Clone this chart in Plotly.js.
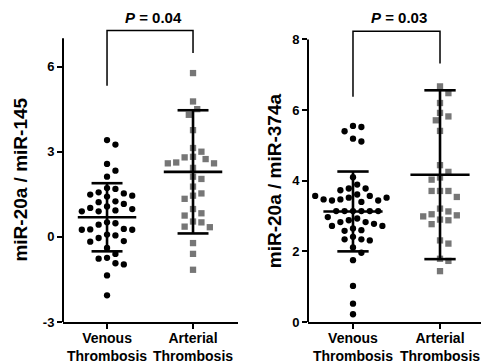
<!DOCTYPE html>
<html>
<head>
<meta charset="utf-8">
<script src="https://cdn.plot.ly/plotly-3.0.1.min.js"></script>
<style>
  html, body { margin: 0; padding: 0; background: #fff; }
  #chart { width: 482px; height: 363px; }
</style>
</head>
<body>
<div id="chart"></div>
<script>
// Group labels (two lines each)
const groups = ['Venous<br>Thrombosis', 'Arterial<br>Thrombosis'];

// miR-20a / miR-145 ratios
const venous145 = [3.41, 3.25, 2.57, 2.33, 2.12, 1.72, 1.69, 1.57, 1.53, 1.49, 1.45, 1.42,
  1.25, 1.22, 1.16, 1.07, 1.02, 0.98, 0.93, 0.90, 0.90, 0.51, 0.48, 0.43, 0.28, 0.26,
  0.25, 0.25, 0.08, 0.05, -0.04, -0.15, -0.17, -0.39, -0.60, -0.74, -0.77, -0.93, -0.97,
  -1.36, -2.06];
const arterial145 = [5.77, 4.77, 4.50, 4.30, 3.76, 3.13, 3.00, 2.82, 2.80, 2.74, 2.62, 2.59,
  2.59, 2.43, 2.12, 2.04, 1.77, 1.53, 1.45, 1.34, 0.98, 0.83, 0.75, 0.54, 0.51, 0.36,
  0.34, -0.22, -0.60, -1.16];
const mean145 = [0.69, 2.29];
const sd145 = [1.20, 2.17];
const ticks145 = [-3, 0, 3, 6];
const tickText145 = ['-3', '0', '3', '6'];

// miR-20a / miR-374a ratios
const venous374 = [5.55, 5.52, 5.40, 5.19, 5.11, 4.10, 3.89, 3.78, 3.78, 3.73, 3.61,
  3.57, 3.52, 3.47, 3.44, 3.44, 3.40, 3.47, 3.52, 3.57,
  3.14, 3.14, 3.14, 3.14, 3.14, 3.14,
  2.97, 2.93, 2.88, 2.83, 2.83, 2.78, 2.72, 2.72, 2.65,
  2.60, 2.58, 2.41, 2.34, 2.34, 2.31, 2.11, 1.96, 1.75,
  1.02, 0.52, 0.22];
const arterial374 = [6.67, 6.48, 6.20, 5.92, 5.82, 5.71, 5.41, 4.44, 4.25, 4.09, 4.03,
  3.71, 3.71, 3.71, 3.54, 3.21, 3.13, 3.05, 3.02, 2.99, 2.90, 2.88, 2.77, 2.31, 2.22,
  1.79, 1.73, 1.44];
const mean374 = [3.13, 4.17];
const sd374 = [1.13, 2.39];
const ticks374 = [0, 2, 4, 6, 8];
const tickText374 = ['0', '2', '4', '6', '8'];

const pLabels = ['<i>P</i> = 0.04', '<i>P</i> = 0.03'];
const yTitles = ['miR-20a / miR-145', 'miR-20a / miR-374a'];

// ---- geometry ----
const W = 482, H = 363;
const FONT = 'Liberation Sans, Arial, Helvetica, sans-serif';
const yDom = [41 / H, 343 / H];
const x1Dom = [63 / W, 238 / W];
const x2Dom = [308 / W, 481 / W];
const x1Range = [-0.512, 1.523];
const x2Range = [-0.517, 1.471];
const y1Range = [-3, 7.64];
const y2Range = [0, 8.55];

function pxPer(dom, range, size) {
  return (dom[1] - dom[0]) * size / (range[1] - range[0]);
}

// Simple beeswarm: spread points sideways so markers don't overlap
function swarm(values, center, domX, rangeX, domY, rangeY) {
  const kx = pxPer(domX, rangeX, W);
  const ky = pxPer(domY, rangeY, H);
  const d = 8.4, step = 4.2;
  const placed = [];
  return values.map(v => {
    const y = v * ky;
    for (let k = 0; k < 60; k++) {
      const off = k === 0 ? 0 : (k % 2 ? 1 : -1) * Math.ceil(k / 2) * step;
      if (placed.every(p => Math.hypot(p.x - off, p.y - y) >= d)) {
        placed.push({ x: off, y: y });
        return center + off / kx;
      }
    }
    return center;
  });
}

function pointTrace(vals, center, xa, ya, domX, rangeX, rangeY, sym, color) {
  return {
    type: 'scatter', mode: 'markers', xaxis: xa, yaxis: ya,
    x: swarm(vals, center, domX, rangeX, yDom, rangeY), y: vals,
    marker: { symbol: sym, size: 6.3, color: color, line: { width: 0 } },
    hoverinfo: 'skip', showlegend: false, cliponaxis: false
  };
}

function summaryTrace(means, sds, xa, ya) {
  const xs = [], ys = [];
  const hw = 0.34, cw = 0.18;
  means.forEach((m, i) => {
    const s = sds[i];
    xs.push(i - hw, i + hw, null); ys.push(m, m, null);
    xs.push(i - cw, i + cw, null); ys.push(m + s, m + s, null);
    xs.push(i - cw, i + cw, null); ys.push(m - s, m - s, null);
    xs.push(i, i, null); ys.push(m - s, m + s, null);
  });
  return {
    type: 'scatter', mode: 'lines', xaxis: xa, yaxis: ya, x: xs, y: ys,
    line: { color: '#000', width: 2.6 }, hoverinfo: 'skip', showlegend: false
  };
}

const data = [
  pointTrace(venous145, 0, 'x', 'y', x1Dom, x1Range, y1Range, 'circle', '#000'),
  pointTrace(arterial145, 1, 'x', 'y', x1Dom, x1Range, y1Range, 'square', '#767676'),
  summaryTrace(mean145, sd145, 'x', 'y'),
  pointTrace(venous374, 0, 'x2', 'y2', x2Dom, x2Range, y2Range, 'circle', '#000'),
  pointTrace(arterial374, 1, 'x2', 'y2', x2Dom, x2Range, y2Range, 'square', '#767676'),
  summaryTrace(mean374, sd374, 'x2', 'y2')
];

const tickFont = { family: FONT, size: 13, color: '#000', weight: 'bold' };
const catFont = { family: FONT, size: 14, color: '#000', weight: 'bold' };

function xAxis(dom, range, anchor) {
  return {
    domain: dom, range: range, anchor: anchor, fixedrange: true,
    tickmode: 'array', tickvals: [0, 1], ticktext: groups,
    ticks: 'outside', ticklen: 5, tickwidth: 2, tickcolor: '#000',
    ticklabelstandoff: -3,
    showline: true, linewidth: 2, linecolor: '#000',
    showgrid: false, zeroline: false, tickfont: catFont
  };
}
function yAxis(dom, range, anchor, vals, text) {
  return {
    domain: dom, range: range, anchor: anchor, fixedrange: true,
    tickmode: 'array', tickvals: vals, ticktext: text,
    ticks: 'outside', ticklen: 5, tickwidth: 2, tickcolor: '#000',
    showline: false, showgrid: false, zeroline: false, tickfont: tickFont
  };
}

const bracketLine = { color: '#000', width: 1.5 };
const pFont = { family: FONT, size: 15, color: '#000', weight: 'bold' };
const titleFont = { family: FONT, size: 19, color: '#000', weight: 'bold' };
const layout = {
  width: W, height: H,
  margin: { l: 0, r: 0, t: 0, b: 0 },
  paper_bgcolor: '#fff', plot_bgcolor: 'rgba(0,0,0,0)',
  font: { family: FONT, color: '#000' },
  showlegend: false,
  xaxis: xAxis(x1Dom, x1Range, 'y'),
  yaxis: yAxis(yDom, y1Range, 'x', ticks145, tickText145),
  xaxis2: xAxis(x2Dom, x2Range, 'y2'),
  yaxis2: yAxis(yDom, y2Range, 'x2', ticks374, tickText374),
  shapes: [
    // vertical axis lines, stopping at the top tick
    { type: 'line', xref: 'x domain', yref: 'y', x0: 0, x1: 0, y0: -3, y1: 7,
      line: { color: '#000', width: 2 } },
    { type: 'line', xref: 'x2 domain', yref: 'y2', x0: 0, x1: 0, y0: 0, y1: 8,
      line: { color: '#000', width: 2 } },
    // significance brackets
    { type: 'path', xref: 'x', yref: 'y', path: 'M0,5.32 L0,7.27 L1,7.27 L1,6.48',
      line: bracketLine },
    { type: 'path', xref: 'x2', yref: 'y2', path: 'M0,6.38 L0,8.23 L1,8.23 L1,7.32',
      line: bracketLine }
  ],
  annotations: [
    { xref: 'x', yref: 'paper', x: 0.535, y: (H - 18) / H, text: pLabels[0], showarrow: false,
      xanchor: 'center', yanchor: 'middle', font: pFont },
    { xref: 'x2', yref: 'paper', x: 0.53, y: (H - 18) / H, text: pLabels[1], showarrow: false,
      xanchor: 'center', yanchor: 'middle', font: pFont },
    { xref: 'paper', yref: 'y', x: 20.5 / W, y: 2, text: yTitles[0], showarrow: false,
      textangle: -90, xanchor: 'center', yanchor: 'middle', font: titleFont },
    { xref: 'paper', yref: 'y2', x: 274.5 / W, y: 4, text: yTitles[1], showarrow: false,
      textangle: -90, xanchor: 'center', yanchor: 'middle', font: titleFont }
  ]
};

Plotly.newPlot('chart', data, layout, { staticPlot: true, displayModeBar: false });
</script>
</body>
</html>
